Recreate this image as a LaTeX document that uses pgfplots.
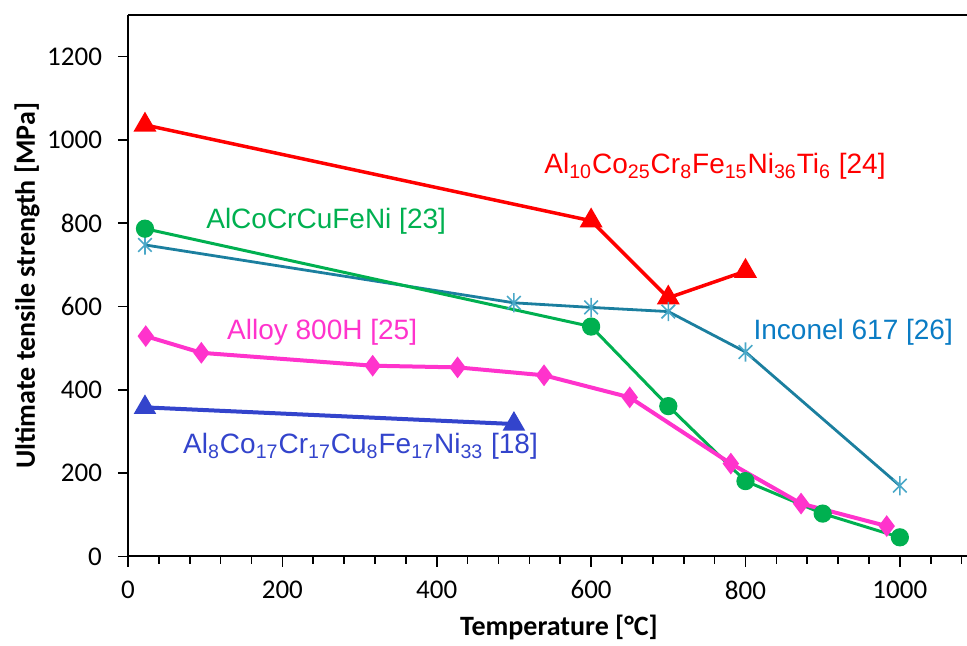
\documentclass[border=0pt]{standalone}
\usepackage{pgfplots}
\pgfplotsset{compat=1.18}
\usepackage{fontspec}
\setmainfont{Carlito}
\newfontfamily\arial{Liberation Sans}
\usetikzlibrary{calc}

\definecolor{cred}{HTML}{FF0000}
\definecolor{cgreen}{HTML}{00B050}
\definecolor{cteal}{HTML}{1B7F9F}
\definecolor{ctealm}{HTML}{4AA8C8}
\definecolor{cmag}{HTML}{FF33CC}
\definecolor{cblue}{HTML}{3344CC}
\definecolor{cinc}{HTML}{0A7CC4}

\pgfdeclareplotmark{xstar}{%
  \pgfpathmoveto{\pgfqpoint{0pt}{\pgfplotmarksize}}%
  \pgfpathlineto{\pgfqpoint{0pt}{-\pgfplotmarksize}}%
  \pgfpathmoveto{\pgfqpoint{0.7071\pgfplotmarksize}{0.7071\pgfplotmarksize}}%
  \pgfpathlineto{\pgfqpoint{-0.7071\pgfplotmarksize}{-0.7071\pgfplotmarksize}}%
  \pgfpathmoveto{\pgfqpoint{-0.7071\pgfplotmarksize}{0.7071\pgfplotmarksize}}%
  \pgfpathlineto{\pgfqpoint{0.7071\pgfplotmarksize}{-0.7071\pgfplotmarksize}}%
  \pgfusepathqstroke}

\begin{document}
\begin{tikzpicture}
\begin{axis}[
  name=ax,
  scale only axis,
  width=419.5pt, height=270.75pt,
  xmin=0, xmax=1087, ymin=0, ymax=1300,
  axis x line=box, axis y line=left,
  axis line style={-, line width=1pt, black},
  xtick={0,200,...,1000},
  minor xtick={40,80,...,1080},
  ytick={0,200,...,1200},
  xtick pos=left, ytick pos=left,
  tick align=outside,
  major tick length=5pt, minor tick length=3.5pt,
  tick style={black, line width=0.8pt},
  ticklabel style={font=\fontsize{13.5}{16}\selectfont},
  xticklabel style={yshift=-3.5pt},
  yticklabel style={xshift=-4.5pt},
  /pgf/number format/assume math mode=true,
  /pgf/number format/1000 sep={},
  xlabel={Temperature [°C]},
  ylabel={Ultimate tensile strength [MPa]},
  label style={font=\bfseries\fontsize{14}{17}\selectfont},
  xlabel style={at={(axis description cs:0.5137,-0.132)}, anchor=center},
  ylabel style={at={(axis description cs:-0.1204,0.5)}, anchor=center},
  clip=false,
]
% Al10Co25Cr8Fe15Ni36Ti6 [24]
\addplot[cred, line width=1.75pt, mark=triangle*, mark size=4.9pt, mark options={solid}]
  coordinates {(22,1036) (600,806) (700,621) (800,685)};
% Inconel 617 [26]
\addplot[cteal, line width=1.4pt, mark=xstar, mark size=4.8pt, mark options={ctealm, line width=0.8pt}]
  coordinates {(22,748) (500,609) (600,598) (700,588) (800,491) (1000,170)};
% AlCoCrCuFeNi [23]
\addplot[cgreen, line width=1.5pt, mark=*, mark size=3.8pt]
  coordinates {(22,787) (600,552) (700,361) (800,181) (900,103) (1000,46)};
% Alloy 800H [25]
\addplot[cmag, line width=2pt, mark=diamond*, mark size=3.8pt]
  coordinates {(23,529) (95,489) (317,458) (427,454) (539,435) (650,382) (781,223) (872,127) (983,73)};
% Al8Co17Cr17Cu8Fe17Ni33 [18]
\addplot[cblue, line width=2pt, mark=triangle*, mark size=4.5pt]
  coordinates {(22,358) (500,318)};

\node[anchor=west, inner sep=0pt, text=cred, font=\arial\fontsize{14}{17}\selectfont] at (axis cs:539,936)
  {Al\textsubscript{10}Co\textsubscript{25}Cr\textsubscript{8}Fe\textsubscript{15}Ni\textsubscript{36}Ti\textsubscript{6} [24]};
\node[anchor=west, inner sep=0pt, text=cgreen, font=\arial\fontsize{14}{17}\selectfont] at (axis cs:101,804)
  {AlCoCrCuFeNi [23]};
\node[anchor=west, inner sep=0pt, text=cinc, font=\arial\fontsize{14}{17}\selectfont] at (axis cs:810,538)
  {Inconel 617 [26]};
\node[anchor=west, inner sep=0pt, text=cmag, font=\arial\fontsize{14}{17}\selectfont] at (axis cs:128,538)
  {Alloy 800H [25]};
\node[anchor=west, inner sep=0pt, text=cblue, font=\arial\fontsize{14}{17}\selectfont] at (axis cs:71,264)
  {Al\textsubscript{8}Co\textsubscript{17}Cr\textsubscript{17}Cu\textsubscript{8}Fe\textsubscript{17}Ni\textsubscript{33} [18]};
\end{axis}
\pgfresetboundingbox
\path[use as bounding box] ([xshift=-64pt,yshift=-44.75pt]ax.south west) rectangle ([yshift=7.5pt]ax.north east);
\end{tikzpicture}
\end{document}
